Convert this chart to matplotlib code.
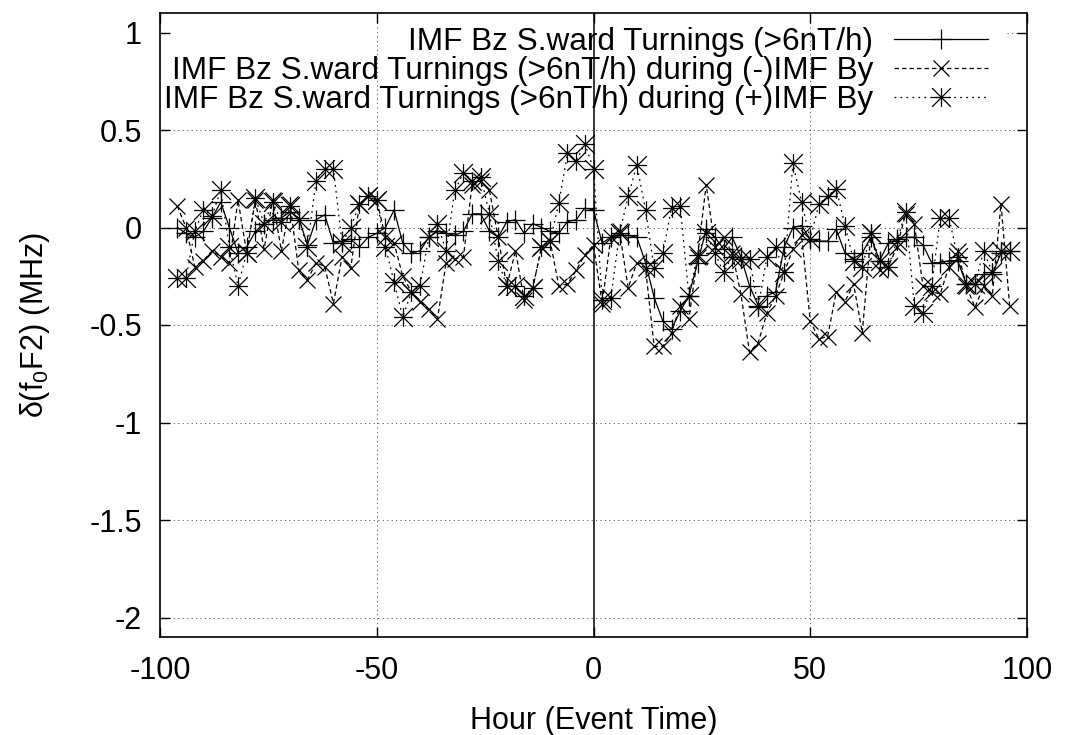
import matplotlib
matplotlib.use('Agg')
import matplotlib.pyplot as plt
from matplotlib.path import Path

# ---------------- data ----------------
hours = list(range(-96, 97, 2))

all_turnings = [
    0.00, -0.03, -0.05, -0.02, 0.05, 0.13, 0.00, -0.13, -0.10, -0.02,
    0.02, 0.04, 0.05, 0.08, 0.05, -0.09, 0.04, 0.065, -0.08, -0.07,
    -0.06, -0.10, -0.05, -0.03, 0.00, 0.09, -0.08, -0.13, -0.12, -0.05,
    -0.02, -0.03, -0.04, -0.02, 0.07, 0.07, -0.02, -0.05, 0.03, 0.04,
    -0.03, 0.02, 0.00, -0.02, -0.03, 0.03, 0.04, 0.10, 0.09, -0.08,
    -0.05, -0.04, -0.04, -0.05, -0.18, -0.36, -0.48, -0.52, -0.43, -0.35,
    -0.18, -0.01, -0.05, -0.11, -0.05, -0.15, -0.30, -0.40, -0.35, -0.33,
    -0.10, 0.00, 0.01, -0.06, -0.07, -0.07, -0.01, -0.13, -0.16, -0.13,
    -0.05, -0.17, -0.08, -0.06, -0.05, -0.05, -0.09, -0.18, -0.18, -0.17,
    -0.17, -0.29, -0.29, -0.24, -0.24, -0.13, -0.12,
]

neg_by = [
    0.11, 0.00, -0.20, -0.17, -0.12, -0.15, -0.18, 0.14, -0.13, 0.14,
    -0.11, 0.14, -0.12, 0.12, -0.22, -0.27, -0.18, -0.20, -0.39, -0.15,
    -0.21, 0.12, 0.16, 0.14, -0.05, -0.08, -0.25, -0.33, -0.38, -0.42,
    -0.47, -0.18, -0.16, -0.15, 0.22, 0.24, 0.19, -0.05, -0.30, -0.12,
    -0.37, -0.31, -0.10, -0.07, -0.30, -0.29, -0.22, -0.14, -0.09, -0.39,
    -0.05, -0.02, -0.31, -0.18, -0.21, -0.61, -0.61, -0.54, -0.40, -0.47,
    -0.15, 0.22, -0.10, -0.05, -0.13, -0.34, -0.64, -0.59, -0.44, -0.35,
    -0.23, -0.11, -0.04, -0.48, -0.57, -0.56, -0.33, -0.38, -0.29, -0.54,
    -0.03, -0.22, -0.20, -0.10, 0.07, 0.02, -0.30, -0.33, -0.34, -0.20,
    -0.12, -0.30, -0.41, -0.30, -0.35, 0.12, -0.40,
]

pos_by = [
    -0.26, -0.26, -0.02, 0.09, 0.06, 0.19, -0.10, -0.30, -0.13, 0.15,
    0.02, 0.13, 0.03, 0.11, 0.04, -0.10, 0.24, 0.30, 0.30, -0.08,
    0.00, 0.12, 0.16, 0.14, -0.10, -0.28, -0.46, -0.33, -0.30, -0.05,
    0.02, -0.12, 0.19, 0.28, 0.24, 0.26, 0.07, -0.17, -0.30, -0.30,
    -0.35, -0.31, -0.10, -0.07, 0.125, 0.38, 0.34, 0.43, 0.30, -0.37,
    -0.36, -0.03, 0.16, 0.32, 0.09, -0.21, -0.13, 0.10, 0.11, -0.35,
    -0.14, -0.03, -0.13, -0.23, -0.15, -0.16, -0.16, -0.41, -0.15, -0.10,
    -0.23, 0.33, 0.13, -0.06, 0.12, 0.16, 0.20, 0.01, -0.17, -0.20,
    -0.03, -0.17, -0.20, -0.07, 0.08, -0.40, -0.44, -0.30, 0.05, 0.05,
    -0.15, -0.29, -0.29, -0.12, -0.23, -0.12, -0.12,
]

series_labels = [
    'IMF Bz S.ward Turnings (>6nT/h)',
    'IMF Bz S.ward Turnings (>6nT/h) during (-)IMF By',
    'IMF Bz S.ward Turnings (>6nT/h) during (+)IMF By',
]

x_ticks = [-100, -50, 0, 50, 100]
x_tick_labels = ['-100', '-50', '0', '50', '100']
y_ticks = [-2, -1.5, -1, -0.5, 0, 0.5, 1]
y_tick_labels = ['-2', '-1.5', '-1', '-0.5', '0', '0.5', '1']
x_label = 'Hour (Event Time)'
y_label = 'δ(f$_0$F2) (MHz)'

# ---------------- style ----------------
plt.rcParams['font.family'] = ['Liberation Sans', 'DejaVu Sans']
plt.rcParams['mathtext.fontset'] = 'custom'
plt.rcParams['mathtext.rm'] = 'Liberation Sans'
plt.rcParams['mathtext.it'] = 'Liberation Sans:italic'
plt.rcParams['mathtext.default'] = 'regular'
plt.rcParams['lines.scale_dashes'] = False

FS = 22
FS_LEG = 22.7

fig = plt.figure(figsize=(10.66, 7.35), dpi=100)
ax = fig.add_axes([160 / 1066, (735 - 637) / 735, 867 / 1066, 624 / 735])

star = Path([(-1, 0), (1, 0), (0, -1), (0, 1), (-1, -1), (1, 1), (-1, 1), (1, -1)],
            [Path.MOVETO, Path.LINETO] * 4)

ax.plot(hours, all_turnings, color='black', lw=0.9, ls='-', marker='+',
        ms=14, mew=0.9, label=series_labels[0], zorder=3)
ax.plot(hours, neg_by, color='black', lw=0.9, ls=(0, (3.2, 2.2)), marker='x',
        ms=12, mew=0.9, label=series_labels[1], zorder=3)
ax.plot(hours, pos_by, color='black', lw=0.9, ls=(0, (1.3, 3.0)), marker=star,
        ms=13.5, mew=0.9, label=series_labels[2], zorder=3)

# grid (gnuplot-like dotted)
grid_kw = dict(color='#555555', lw=0.7, ls=(0, (0.8, 2.4)), zorder=1)
for yv in y_ticks[:-1]:
    ax.axhline(yv, **grid_kw)
ax.hlines(1, 95.4, 100, **grid_kw)
for xv in (-50, 50):
    ax.axvline(xv, **grid_kw)
ax.axvline(0, color='black', lw=1.1, zorder=2)

ax.set_xlim(-100, 100)
ax.set_ylim(-2.1, 1.1)
ax.set_xticks(x_ticks)
ax.set_xticklabels(x_tick_labels)
ax.set_yticks(y_ticks)
ax.set_yticklabels(y_tick_labels)
ax.tick_params(direction='in', length=7, width=1.0, top=True, right=True,
               labelsize=FS)
ax.tick_params(axis='x', pad=14)
ax.tick_params(axis='y', pad=13)
for s in ax.spines.values():
    s.set_linewidth(1.2)

ax.set_xlabel(x_label, fontsize=FS, labelpad=14)
ax.set_ylabel(y_label, fontsize=FS, labelpad=27)

ax.legend(loc='upper right', bbox_to_anchor=(0.955, 0.977), markerfirst=False,
          frameon=False, handlelength=2.98, handletextpad=0.67, labelspacing=-0.03,
          fontsize=FS_LEG, borderaxespad=0, borderpad=0)

fig.savefig('out.png', dpi=100)
